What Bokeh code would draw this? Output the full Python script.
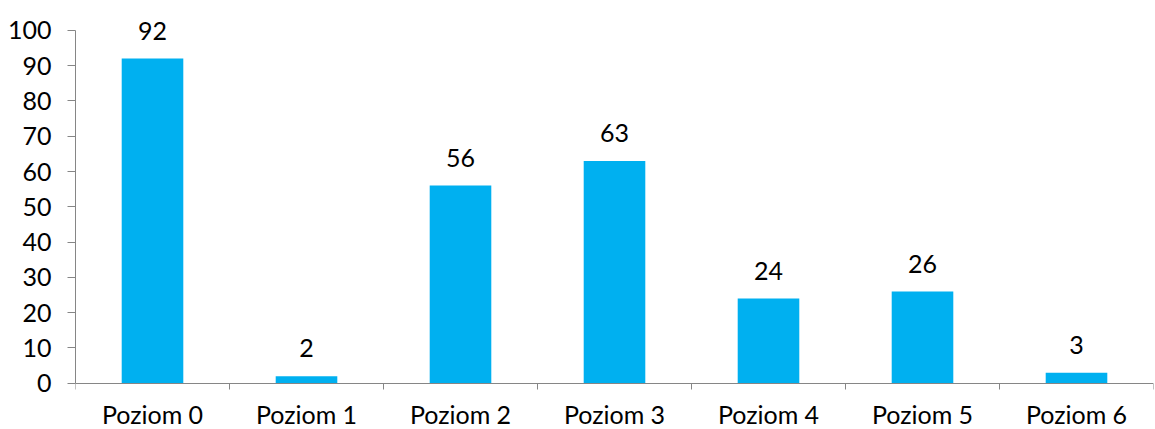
from bokeh.plotting import figure
from bokeh.models import ColumnDataSource, Range1d, FixedTicker
from bokeh.core.properties import value
from bokeh.embed import file_html
from bokeh.resources import INLINE

categories = ["Poziom 0", "Poziom 1", "Poziom 2", "Poziom 3", "Poziom 4", "Poziom 5", "Poziom 6"]
values = [92, 2, 56, 63, 24, 26, 3]
y_ticks = [0, 10, 20, 30, 40, 50, 60, 70, 80, 90, 100]

FONT = "Lato"
FS = "25px"
AXIS_COL = "#868686"

n = len(categories)
xs = [i + 0.5 for i in range(n)]
src = ColumnDataSource(dict(x=xs, top=values, label=[str(v) for v in values]))

p = figure(width=1155, height=429, output_backend="svg", toolbar_location=None,
           x_range=Range1d(0, n), y_range=Range1d(-13.1, 104.2),
           min_border_left=75, min_border_right=2, min_border_top=15, min_border_bottom=0)
p.outline_line_color = None
p.xgrid.grid_line_color = None
p.ygrid.grid_line_color = None

p.vbar(x="x", top="top", width=0.4, bottom=0, source=src, color="#00B0F0", line_color=None)
p.text(x="x", y="top", text="label", source=src, text_align="center", text_baseline="alphabetic",
       y_offset=-28, text_font=value(FONT), text_font_size=FS, text_color="#000000")

# x axis at value 0, ticks between categories
p.xaxis.fixed_location = 0
p.xaxis.ticker = FixedTicker(ticks=xs, minor_ticks=list(range(n + 1)))
p.xaxis.major_label_overrides = {x: c for x, c in zip(xs, categories)}
p.xaxis.major_tick_line_color = None
p.xaxis.major_tick_out = 0
p.xaxis.major_tick_in = 0
p.xaxis.minor_tick_out = 6
p.xaxis.minor_tick_in = 0
p.xaxis.minor_tick_line_color = AXIS_COL
p.xaxis.axis_line_color = AXIS_COL
p.xaxis.major_label_text_font = FONT
p.xaxis.major_label_text_font_size = FS
p.xaxis.major_label_text_color = "#000000"
p.xaxis.major_label_standoff = 10

# y axis
p.yaxis.ticker = FixedTicker(ticks=y_ticks)
p.yaxis.bounds = (0, 100)
p.yaxis.minor_tick_line_color = None
p.yaxis.major_tick_out = 8
p.yaxis.major_tick_in = 0
p.yaxis.major_tick_line_color = AXIS_COL
p.yaxis.axis_line_color = AXIS_COL
p.yaxis.major_label_text_font = FONT
p.yaxis.major_label_text_font_size = FS
p.yaxis.major_label_text_color = "#000000"
p.yaxis.major_label_standoff = 16

open("out.html", "w").write(file_html(p, INLINE))
